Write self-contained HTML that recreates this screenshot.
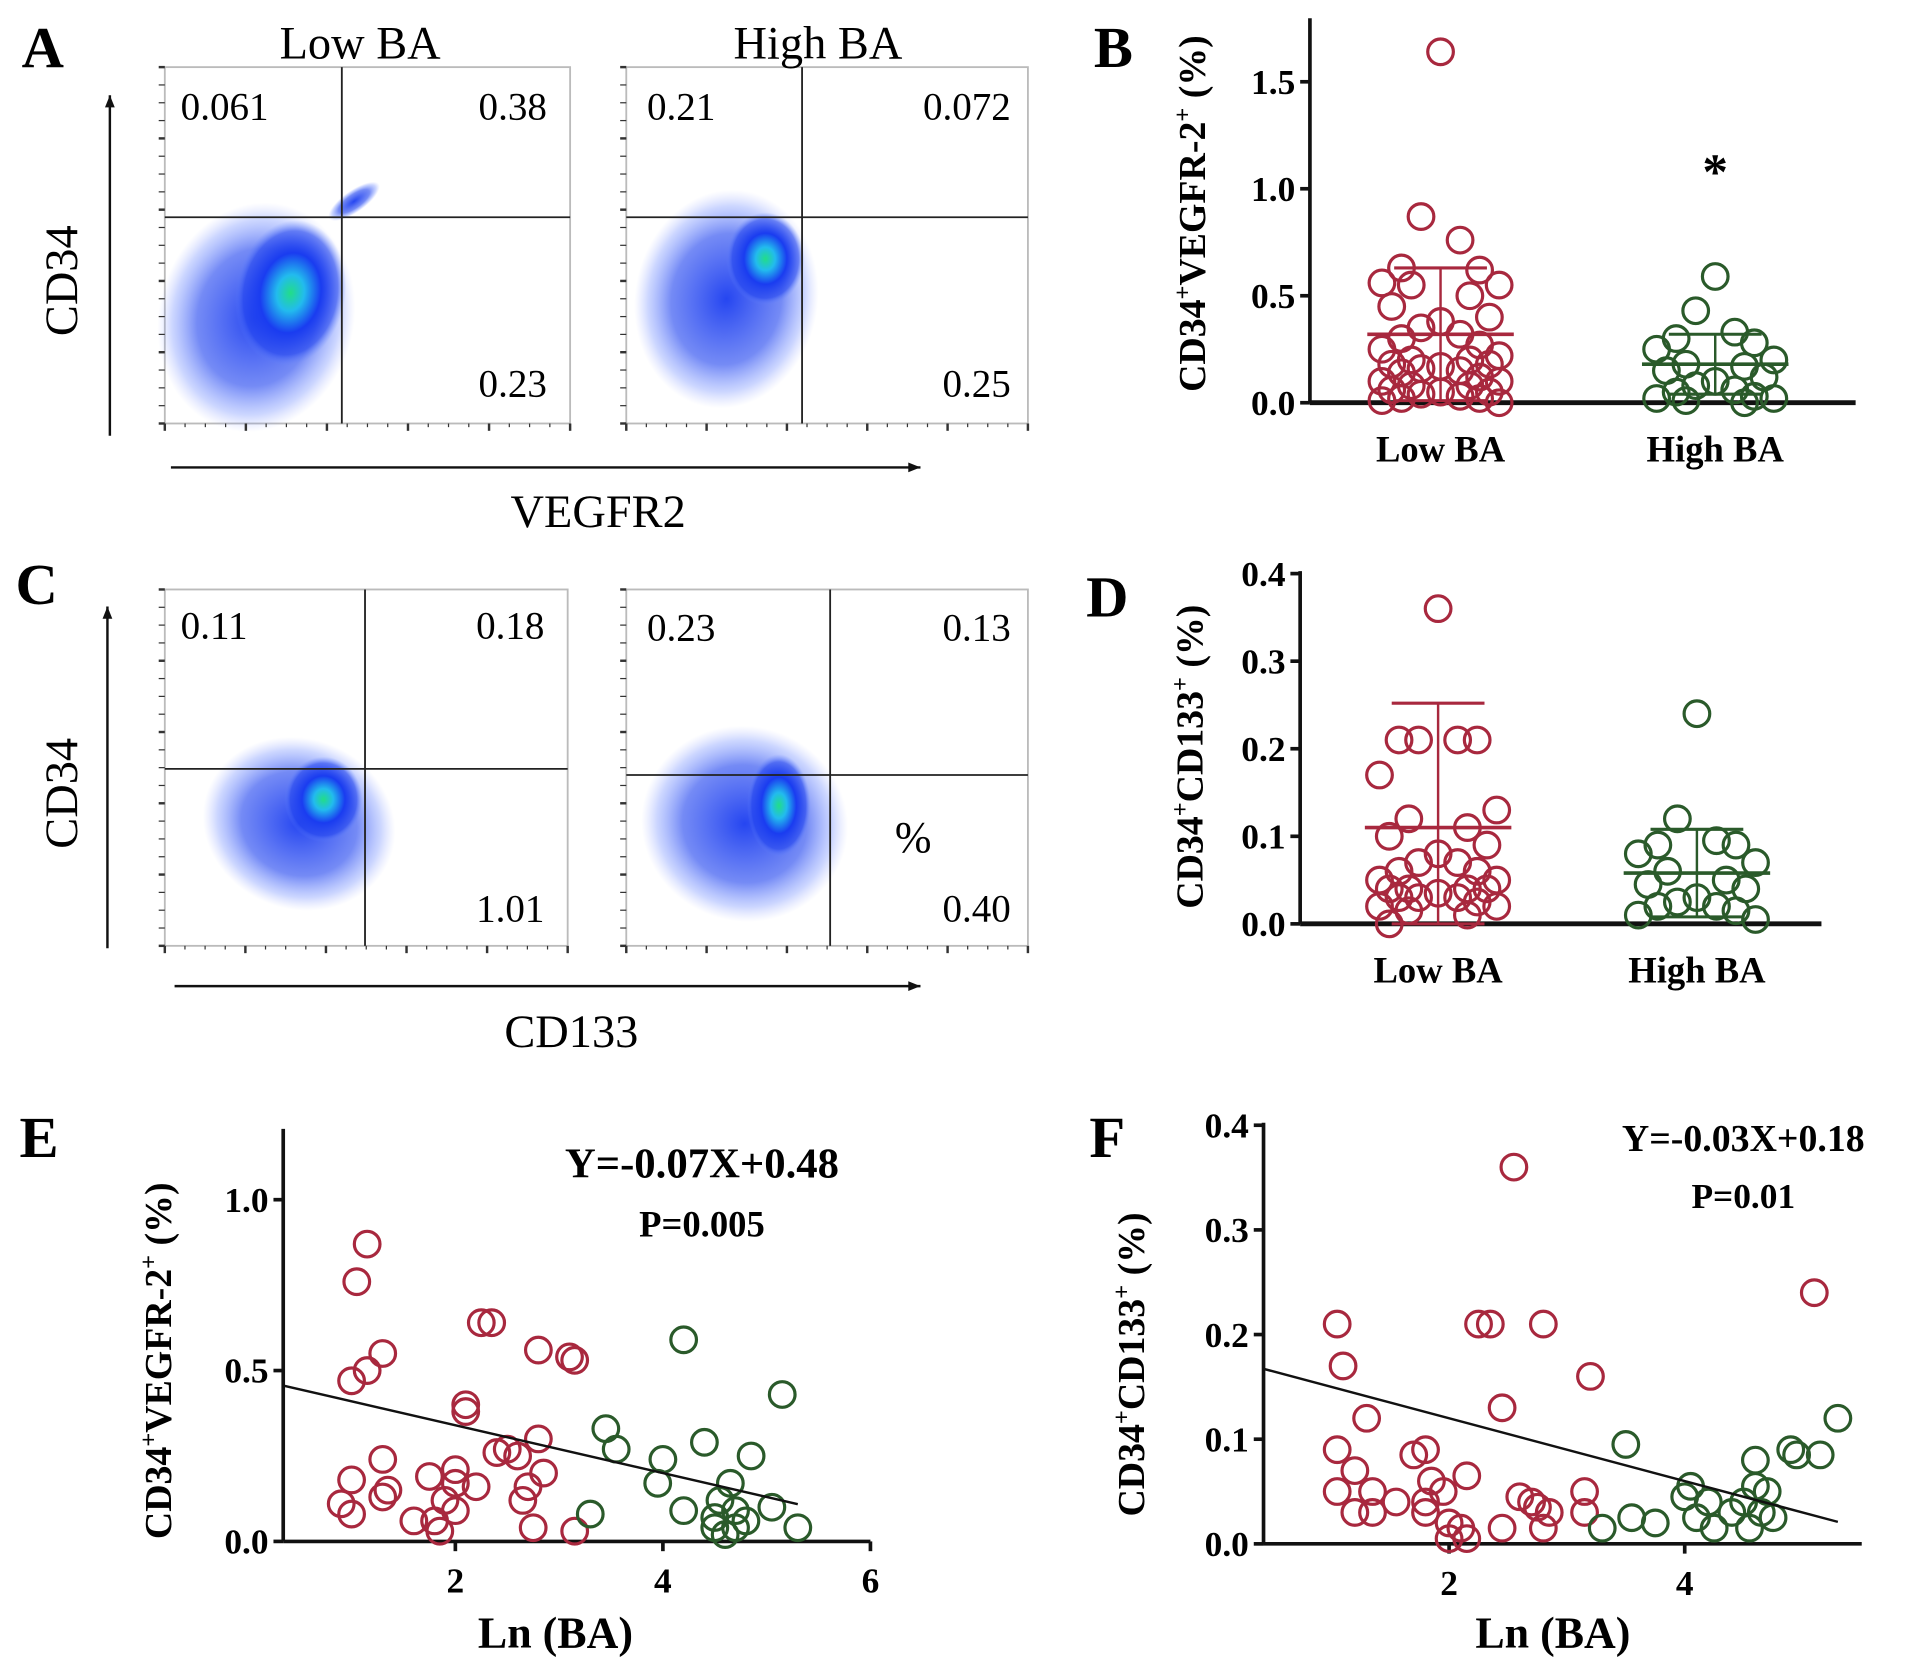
<!DOCTYPE html>
<html><head><meta charset="utf-8"><style>
html,body{margin:0;padding:0;background:#fff;}
svg{display:block;}
text{font-family:"Liberation Serif",serif;}
</style></head><body>
<svg id="fig" width="1913" height="1672" viewBox="0 0 1567 1370" preserveAspectRatio="none" xmlns="http://www.w3.org/2000/svg">
<defs>
<radialGradient id="blob" cx="0.5" cy="0.5" r="0.5">
<stop offset="0" stop-color="#22dd88"/><stop offset="0.25" stop-color="#22bbee"/>
<stop offset="0.55" stop-color="#1a3cf0"/><stop offset="0.85" stop-color="#2244ee" stop-opacity="0.6"/>
<stop offset="1" stop-color="#6688ff" stop-opacity="0"/></radialGradient>
<radialGradient id="blob2" cx="0.5" cy="0.5" r="0.5">
<stop offset="0" stop-color="#1a3cf0" stop-opacity="0.95"/><stop offset="0.6" stop-color="#2a4cf0" stop-opacity="0.65"/>
<stop offset="0.85" stop-color="#5577ff" stop-opacity="0.3"/>
<stop offset="1" stop-color="#8899ff" stop-opacity="0"/></radialGradient>
</defs>
<g id="flow"></g>
<g id="charts"></g>
</svg>
<script>
// ---- data ----
const bLow=[1.64,0.87,0.76,0.63,0.62,0.56,0.55,0.55,0.5,0.45,0.4,0.38,0.35,0.32,0.3,0.27,0.25,0.22,0.2,0.2,0.18,0.18,0.17,0.16,0.15,0.14,0.12,0.1,0.1,0.08,0.08,0.06,0.05,0.05,0.04,0.03,0.02,0.02,0.01,0.0];
const bHigh=[0.59,0.43,0.33,0.3,0.28,0.25,0.2,0.18,0.17,0.15,0.12,0.1,0.08,0.06,0.05,0.03,0.02,0.02,0.01,0.0];
const bStats={lowMean:0.32,lowSD:0.31,highMean:0.18,highSD:0.14};
const dLow=[0.36,0.21,0.21,0.21,0.21,0.17,0.13,0.12,0.11,0.1,0.09,0.08,0.07,0.07,0.06,0.06,0.05,0.05,0.04,0.04,0.04,0.04,0.035,0.03,0.03,0.03,0.025,0.02,0.02,0.015,0.01,0.0];
const dHigh=[0.24,0.12,0.095,0.09,0.09,0.08,0.07,0.06,0.05,0.045,0.04,0.03,0.025,0.02,0.02,0.015,0.01,0.005];
const dStats={lowMean:0.11,lowSD:0.142,highMean:0.058,highSD:0.05};
const eRedX=[0.9,1.0,1.0,1.0,1.05,1.15,1.15,1.3,1.3,1.3,1.35,1.6,1.75,1.8,1.85,1.9,2.0,2.0,2.0,2.1,2.1,2.2,2.25,2.35,2.4,2.5,2.6,2.65,2.7,2.75,2.8,2.8,2.85,3.1,3.15,3.15];
const eRedY=[0.11,0.08,0.18,0.47,0.76,0.87,0.5,0.55,0.24,0.13,0.15,0.06,0.19,0.06,0.03,0.12,0.09,0.21,0.17,0.4,0.38,0.16,0.64,0.64,0.26,0.27,0.25,0.12,0.16,0.04,0.3,0.56,0.2,0.54,0.53,0.03];
const eGrnX=[3.3,3.45,3.55,3.95,4.0,4.2,4.2,4.4,4.5,4.5,4.55,4.6,4.65,4.7,4.7,4.8,4.85,5.05,5.15,5.3];
const eGrnY=[0.08,0.33,0.27,0.17,0.24,0.09,0.59,0.29,0.07,0.04,0.12,0.02,0.17,0.09,0.04,0.06,0.25,0.1,0.43,0.04];
const fRedX=[1.05,1.05,1.05,1.1,1.2,1.2,1.3,1.35,1.35,1.55,1.7,1.8,1.8,1.8,1.85,1.95,2.0,2.0,2.1,2.15,2.15,2.25,2.35,2.45,2.45,2.55,2.6,2.7,2.75,2.8,2.8,2.85,3.15,3.15,3.2,5.1];
const fRedY=[0.21,0.09,0.05,0.17,0.07,0.03,0.12,0.05,0.03,0.04,0.085,0.09,0.04,0.03,0.06,0.05,0.02,0.005,0.015,0.065,0.005,0.21,0.21,0.015,0.13,0.36,0.045,0.04,0.035,0.21,0.015,0.03,0.05,0.03,0.16,0.24];
const fGrnX=[3.3,3.5,3.55,3.75,4.0,4.05,4.1,4.2,4.25,4.4,4.5,4.55,4.6,4.6,4.65,4.7,4.75,4.9,4.95,5.15,5.3];
const fGrnY=[0.015,0.095,0.025,0.02,0.045,0.055,0.025,0.04,0.015,0.03,0.04,0.015,0.055,0.08,0.03,0.05,0.025,0.09,0.085,0.085,0.12];
const eFit=[-0.07,0.48], fFit=[-0.03,0.18];
const bTicks=[0,0.5,1.0,1.5], dTicks=[0,0.1,0.2,0.3,0.4], eYTicks=[0,0.5,1.0], eXTicks=[2,4,6], fYTicks=[0,0.1,0.2,0.3,0.4], fXTicks=[2,4];

const NS="http://www.w3.org/2000/svg";
const RED="#a8283e", GRN="#2a5a2a";
function mk(parent,tag,attrs,txt){const e=document.createElementNS(NS,tag);for(const k in attrs)e.setAttribute(k,attrs[k]);if(txt!==undefined)e.textContent=txt;parent.appendChild(e);return e;}
const flow=document.getElementById('flow'), charts=document.getElementById('charts');

// ---- flow plots ----
function flowBox(x0,y0,x1,y1,gx,gy,labels,blobs,name){
  const g=mk(flow,'g',{});
  
  
  mk(g,'rect',{x:x0,y:y0,width:x1-x0,height:y1-y0,fill:'#fff',stroke:'#bbb','stroke-width':1.5});
  blobs.forEach(b=>mk(g,'ellipse',{cx:b[0],cy:b[1],rx:b[2],ry:b[3],fill:b[4]?'url(#blob)':'url(#blob2)',transform:`rotate(${b[5]||0} ${b[0]} ${b[1]})`}));
  mk(g,'line',{x1:gx,y1:y0,x2:gx,y2:y1,stroke:'#222','stroke-width':1.5});
  mk(g,'line',{x1:x0,y1:gy,x2:x1,y2:gy,stroke:'#222','stroke-width':1.5});
  for(let i=0;i<=20;i++){const yy=y0+ (y1-y0)*i/20;mk(g,'line',{x1:x0-5,y1:yy,x2:x0,y2:yy,stroke:'#333','stroke-width':i%4==0?2:1});}
  for(let i=0;i<=20;i++){const xx=x0+(x1-x0)*i/20;mk(g,'line',{x1:xx,y1:y1,x2:xx,y2:y1+(i%4==0?6:3),stroke:'#333','stroke-width':i%4==0?2:1});}
  labels.forEach(l=>{const t=mk(g,'text',{x:l[0],y:l[1],'font-size':32,'text-anchor':l[3]||'start'},l[2]);});
}
flowBox(135,55,467,347,280,178,[[148,98,'0.061'],[448,98,'0.38','end'],[448,325,'0.23','end']],
  [[210,260,80,95,false,15],[238,240,45,60,true,10],[290,165,25,9,false,-35]],'flow-low-ba-vegfr2');
flowBox(513,55,842,347,657,178,[[530,98,'0.21'],[828,98,'0.072','end'],[828,325,'0.25','end']],
  [[595,245,75,90,false,10],[627,212,32,38,true,0]],'flow-high-ba-vegfr2');
flowBox(135,483,465,775,299,630,[[148,523,'0.11'],[446,523,'0.18','end'],[446,755,'1.01','end']],
  [[245,675,80,70,false,20],[265,655,32,35,true,0]],'flow-low-ba-cd133');
flowBox(513,483,842,775,680,635,[[530,525,'0.23'],[828,525,'0.13','end'],[828,755,'0.40','end']],
  [[610,675,85,80,false,15],[638,660,26,42,true,0]],'flow-high-ba-cd133');
function T(p,x,y,s,txt,name,extra){const t=mk(p,'text',Object.assign({x:x,y:y,'font-size':s,'text-anchor':'middle'},extra||{}),txt);return t;}
T(flow,295,48,38,'Low BA','title-low-ba');
T(flow,670,48,38,'High BA','title-high-ba');
T(flow,35,55,48,'A','panel-label-a',{'font-weight':'bold'});
T(flow,30,495,48,'C','panel-label-c',{'font-weight':'bold'});
T(flow,490,432,38,'VEGFR2','x-axis-title-vegfr2');
T(flow,468,858,38,'CD133','x-axis-title-cd133');
T(flow,50,230,38,'CD34','y-axis-title-cd34-a',{transform:'rotate(-90 50 230) translate(0 13)'});
T(flow,50,650,38,'CD34','y-axis-title-cd34-c',{transform:'rotate(-90 50 650) translate(0 13)'});
T(flow,748,698,36,'%','percent-mark');
function arrow(x1,y1,x2,y2,name){const g=mk(flow,'g',{});
  mk(g,'line',{x1:x1,y1:y1,x2:x2,y2:y2,stroke:'#111','stroke-width':2});
  if(x1==x2)mk(g,'polygon',{points:`${x2-4},${y2+10} ${x2+4},${y2+10} ${x2},${y2}`,fill:'#111'});
  else mk(g,'polygon',{points:`${x2-10},${y2-4} ${x2-10},${y2+4} ${x2},${y2}`,fill:'#111'});}
arrow(90,357,90,78,'y-arrow-a');arrow(140,383,754,383,'x-arrow-a');
arrow(88,777,88,497,'y-arrow-c');arrow(143,808,754,808,'x-arrow-c');

// ---- dot plots ----
function circ(p,x,y,col,name){const c=mk(p,'circle',{cx:x,cy:y,r:10.5,fill:'none',stroke:col,'stroke-width':2.6});}
const jit=[0,-1,1,-2,2,-3,3,-1.5,1.5,-2.5,2.5];
function dotPanel(o){
  const g=mk(charts,'g',{});
  const ys=v=>o.y0-(v/o.yMax)*(o.y0-o.yTop);
  mk(g,'line',{x1:o.ax,y1:o.top,x2:o.ax,y2:o.y0,stroke:'#111','stroke-width':3});
  mk(g,'line',{x1:o.ax,y1:o.y0,x2:o.xEnd,y2:o.y0,stroke:'#111','stroke-width':4});
  o.ticks.forEach(t=>{mk(g,'line',{x1:o.ax-8,y1:ys(t),x2:o.ax,y2:ys(t),stroke:'#111','stroke-width':3});
    T(g,o.ax-12,ys(t)+10,29,t.toFixed(1),'y-tick-label',{'text-anchor':'end','font-weight':'bold'});});
  [[o.low,o.lx,RED,o.st.lowMean,o.st.lowSD,'low-ba'],[o.high,o.hx,GRN,o.st.highMean,o.st.highSD,'high-ba']].forEach(s=>{
    s[0].forEach((v,i)=>circ(g,s[1]+jit[i%jit.length]*16,ys(v),s[2],'point-'+s[5]));
    const m=mk(g,'line',{x1:s[1]-60,y1:ys(s[3]),x2:s[1]+60,y2:ys(s[3]),stroke:s[2],'stroke-width':3});
    const up=ys(s[3]+s[4]),lo=ys(Math.max(s[3]-s[4],0));
    mk(g,'line',{x1:s[1],y1:up,x2:s[1],y2:lo,stroke:s[2],'stroke-width':2});
    mk(g,'line',{x1:s[1]-38,y1:up,x2:s[1]+38,y2:up,stroke:s[2],'stroke-width':2.5});
    mk(g,'line',{x1:s[1]-38,y1:lo,x2:s[1]+38,y2:lo,stroke:s[2],'stroke-width':2.5});
    T(g,s[1],o.y0+48,30,s[5]=='low-ba'?'Low BA':'High BA','x-category-label',{'font-weight':'bold'});
  });
  const yt=T(g,0,0,31,'','y-axis-title',{'font-weight':'bold',transform:`translate(${o.tx} ${o.ty}) rotate(-90)`});
  yt.innerHTML=o.title;
  return g;
}
dotPanel({name:'chart-b',ax:1073,top:15,y0:330,yTop:67,yMax:1.5,xEnd:1520,ticks:bTicks,low:bLow,high:bHigh,lx:1180,hx:1405,st:bStats,tx:987,ty:175,
  title:'CD34<tspan dy="-12" font-size="20">+</tspan><tspan dy="12">VEGFR-2</tspan><tspan dy="-12" font-size="20">+</tspan><tspan dy="12">  (%)</tspan>'});
dotPanel({name:'chart-d',ax:1065,top:468,y0:757,yTop:470,yMax:0.4,xEnd:1492,ticks:dTicks,low:dLow,high:dHigh,lx:1178,hx:1390,st:dStats,tx:985,ty:620,
  title:'CD34<tspan dy="-12" font-size="20">+</tspan><tspan dy="12">CD133</tspan><tspan dy="-12" font-size="20">+</tspan><tspan dy="12"> (%)</tspan>'});
T(charts,912,55,48,'B','panel-label-b',{'font-weight':'bold'});
T(charts,907,505,48,'D','panel-label-d',{'font-weight':'bold'});
T(charts,1405,155,42,'*','significance-asterisk',{'font-weight':'bold'});

// ---- scatter ----
function scatter(o){
  const g=mk(charts,'g',{});
  const xs=v=>o.x0px+(v-o.x0)*o.kx, ys=v=>o.y0-v*o.ky;
  mk(g,'line',{x1:o.ax,y1:o.top,x2:o.ax,y2:o.y0,stroke:'#111','stroke-width':3});
  mk(g,'line',{x1:o.ax,y1:o.y0,x2:o.xEnd,y2:o.y0,stroke:'#111','stroke-width':3});
  o.yt.forEach(t=>{mk(g,'line',{x1:o.ax-8,y1:ys(t),x2:o.ax,y2:ys(t),stroke:'#111','stroke-width':3});
    T(g,o.ax-12,ys(t)+10,29,t.toFixed(1),'y-tick-label',{'text-anchor':'end','font-weight':'bold'});});
  o.xt.forEach(t=>{mk(g,'line',{x1:xs(t),y1:o.y0,x2:xs(t),y2:o.y0+8,stroke:'#111','stroke-width':3});
    T(g,xs(t),o.y0+42,29,String(t),'x-tick-label',{'font-weight':'bold'});});
  o.rx.forEach((v,i)=>circ(g,xs(v),ys(o.ry[i]),RED,'point-low-ba'));
  o.gx.forEach((v,i)=>circ(g,xs(v),ys(o.gy[i]),GRN,'point-high-ba'));
  const a=o.xa,b=o.xb;
  const l=mk(g,'line',{x1:xs(a),y1:ys(o.fit[0]*a+o.fit[1]),x2:xs(b),y2:ys(o.fit[0]*b+o.fit[1]),stroke:'#111','stroke-width':2});
  
  T(g,o.eqx,o.eqy,o.eqs,o.eq,'regression-equation',{'font-weight':'bold'});
  T(g,o.eqx,o.py,o.ps,o.p,'p-value',{'font-weight':'bold'});
  T(g,o.lx,1350,36,'Ln (BA)','x-axis-title',{'font-weight':'bold'});
  const yt=T(g,0,0,31,'','y-axis-title',{'font-weight':'bold',transform:`translate(${o.tx} ${o.ty}) rotate(-90)`});
  yt.innerHTML=o.title;
}
scatter({name:'chart-e',ax:232,top:925,y0:1263,ky:280,x0:0,x0px:203,kx:85,xEnd:713,yt:eYTicks,xt:eXTicks,rx:eRedX,ry:eRedY,gx:eGrnX,gy:eGrnY,fit:eFit,xa:0.34,xb:5.3,
  eq:'Y=-0.07X+0.48',eqx:575,eqy:965,eqs:35,p:'P=0.005',py:1013,ps:30,lx:455,tx:140,ty:1115,
  title:'CD34<tspan dy="-12" font-size="20">+</tspan><tspan dy="12">VEGFR-2</tspan><tspan dy="-12" font-size="20">+</tspan><tspan dy="12">  (%)</tspan>'});
scatter({name:'chart-f',ax:1035,top:920,y0:1265,ky:857.5,x0:0,x0px:994,kx:96.5,xEnd:1525,yt:fYTicks,xt:fXTicks,rx:fRedX,ry:fRedY,gx:fGrnX,gy:fGrnY,fit:fFit,xa:0.42,xb:5.3,
  eq:'Y=-0.03X+0.18',eqx:1428,eqy:943,eqs:31,p:'P=0.01',py:990,ps:29,lx:1272,tx:937,ty:1118,
  title:'CD34<tspan dy="-12" font-size="20">+</tspan><tspan dy="12">CD133</tspan><tspan dy="-12" font-size="20">+</tspan><tspan dy="12"> (%)</tspan>'});
T(charts,32,948,48,'E','panel-label-e',{'font-weight':'bold'});
T(charts,907,948,48,'F','panel-label-f',{'font-weight':'bold'});
</script>
</body></html>
